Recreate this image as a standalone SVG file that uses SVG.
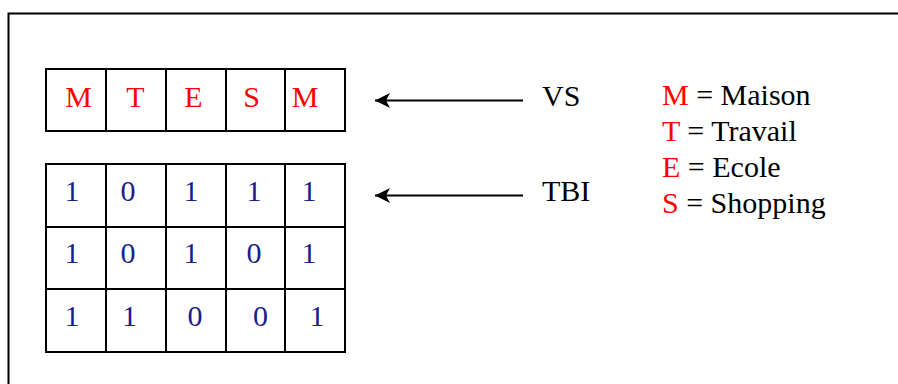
<svg xmlns="http://www.w3.org/2000/svg" width="898" height="384" viewBox="0 0 898 384">
<defs>
<style>
text{font-family:"Liberation Serif","DejaVu Serif",serif;font-size:30px}
.r{fill:#ff0000}
.b{fill:#1c1c8f}
.k{fill:#000}
.c{text-anchor:middle}
.grid{fill:none;stroke:#000;stroke-width:2}
.conn{stroke:#000;stroke-width:2;fill:none}
</style>
<marker id="ah" viewBox="0 0 16 16" refX="15" refY="8" markerWidth="16" markerHeight="16" markerUnits="userSpaceOnUse" orient="auto">
<path d="M15,8 L0,0.5 L4,8 L0,15.5 Z" fill="#000" stroke="none"/>
</marker>
</defs>
<rect x="0" y="0" width="898" height="384" fill="#fff"/>
<rect x="8.5" y="13.5" width="900" height="400" fill="none" stroke="#000" stroke-width="2"/>

<g id="vs-table">
<rect class="grid" x="46" y="69" width="299" height="62"/>
<path class="grid" d="M106,69V131M166,69V131M226,69V131M285,69V131"/>
<text class="r c" x="78.5" y="107" font-family="Liberation Serif, serif">M</text>
<text class="r c" x="135.5" y="107" font-family="Liberation Serif, serif">T</text>
<text class="r c" x="193.5" y="107" font-family="Liberation Serif, serif">E</text>
<text class="r c" x="251.5" y="107" font-family="Liberation Serif, serif">S</text>
<text class="r c" x="305" y="107" font-family="Liberation Serif, serif">M</text>
</g>

<g id="tbi-table" font-family="Liberation Serif, serif">
<rect class="grid" x="46" y="164" width="299" height="188"/>
<path class="grid" d="M106,164V352M166,164V352M226,164V352M285,164V352M46,227H345M46,289H345"/>
<text class="b c" x="72" y="201">1</text>
<text class="b c" x="128" y="201">0</text>
<text class="b c" x="191" y="201">1</text>
<text class="b c" x="254" y="201">1</text>
<text class="b c" x="309" y="201">1</text>
<text class="b c" x="72" y="263">1</text>
<text class="b c" x="128" y="263">0</text>
<text class="b c" x="191" y="263">1</text>
<text class="b c" x="254" y="263">0</text>
<text class="b c" x="309" y="263">1</text>
<text class="b c" x="72" y="326">1</text>
<text class="b c" x="129.5" y="326">1</text>
<text class="b c" x="195" y="326">0</text>
<text class="b c" x="260.5" y="326">0</text>
<text class="b c" x="317" y="326">1</text>
</g>

<g id="vs-label">
<text class="k" x="542" y="106">VS</text>
</g>
<g id="tbi-label">
<text class="k" x="542" y="201">TBI</text>
</g>

<g id="legend">
<text class="k" x="662" y="105"><tspan class="r">M</tspan> = Maison</text>
<text class="k" x="662" y="141"><tspan class="r">T</tspan> = Travail</text>
<text class="k" x="662" y="177"><tspan class="r">E</tspan> = Ecole</text>
<text class="k" x="662" y="213"><tspan class="r">S</tspan> = Shopping</text>
</g>

<g id="connectors">
<line class="conn" x1="523" y1="100.5" x2="375" y2="100.5" marker-end="url(#ah)"/>
<line class="conn" x1="523" y1="195.5" x2="375" y2="195.5" marker-end="url(#ah)"/>
</g>
</svg>
